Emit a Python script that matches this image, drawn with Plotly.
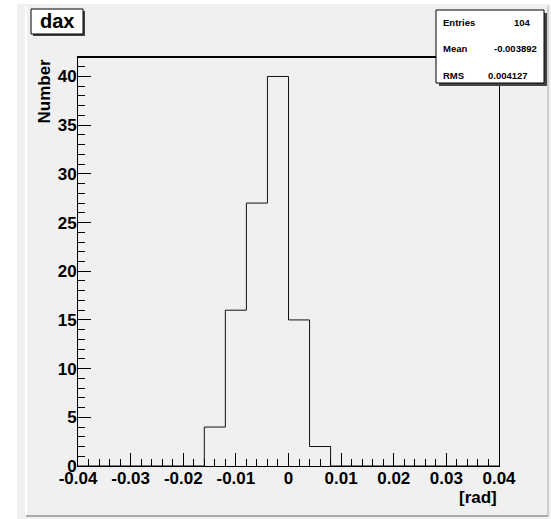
import plotly.graph_objects as go

# ---- data ----
bin_edges = [round(-0.04 + 0.004 * i, 3) for i in range(21)]
counts = [0, 0, 0, 0, 0, 0, 4, 16, 27, 40, 15, 2, 0, 0, 0, 0, 0, 0, 0, 0]
hist_title = "dax"
x_title = "[rad]"
y_title = "Number"
x_tickvals = [-0.04, -0.03, -0.02, -0.01, 0, 0.01, 0.02, 0.03, 0.04]
x_ticktext = ["-0.04", "-0.03", "-0.02", "-0.01", "0", "0.01", "0.02", "0.03", "0.04"]
y_tickvals = [0, 5, 10, 15, 20, 25, 30, 35, 40]
y_ticktext = ["0", "5", "10", "15", "20", "25", "30", "35", "40"]
stat_names = ["Entries", "Mean", "RMS"]
stat_values = ["104", "-0.003892", "0.004127"]

# ---- layout geometry (pixels) ----
W, H = 551, 519
L, R, T, B = 78, 499, 57, 466
PW, PH = R - L, B - T


def px(x):
    return (x - L) / PW


def py(y):
    return (B - y) / PH


FONT = "Liberation Sans, Arial, Helvetica, sans-serif"

fig = go.Figure()
fig.add_trace(go.Scatter(
    x=bin_edges,
    y=counts + [counts[-1]],
    mode="lines",
    line=dict(shape="hv", color="#111111", width=1),
    hoverinfo="skip",
    showlegend=False,
))

shapes = []
# canvas background
shapes.append(dict(type="rect", xref="paper", yref="paper", x0=px(17), x1=px(552), y0=py(4), y1=py(520),
                   fillcolor="#f0f0f0", line=dict(width=0), layer="below"))
shapes.append(dict(type="line", xref="paper", yref="paper", x0=px(26), x1=px(26), y0=py(6), y1=py(516),
                   line=dict(color="#ffffff", width=2), layer="below"))
shapes.append(dict(type="line", xref="paper", yref="paper", x0=px(26), x1=px(548), y0=py(516), y1=py(516),
                   line=dict(color="#a8a8a8", width=2), layer="below"))
shapes.append(dict(type="line", xref="paper", yref="paper", x0=px(548), x1=px(548), y0=py(6), y1=py(516),
                   line=dict(color="#a8a8a8", width=1), layer="below"))
# thick top frame line
shapes.append(dict(type="line", xref="x", yref="y", x0=-0.04, x1=0.04, y0=42, y1=42,
                   line=dict(color="black", width=2), layer="above"))
# title box
shapes.append(dict(type="rect", xref="paper", yref="paper", x0=px(33), x1=px(85), y0=py(11), y1=py(36),
                   fillcolor="#444444", line=dict(width=0), layer="above"))
shapes.append(dict(type="rect", xref="paper", yref="paper", x0=px(31), x1=px(83), y0=py(9), y1=py(34),
                   fillcolor="white", line=dict(color="black", width=1), layer="above"))
# stats box
shapes.append(dict(type="rect", xref="paper", yref="paper", x0=px(439), x1=px(547), y0=py(13), y1=py(86),
                   fillcolor="#444444", line=dict(width=0), layer="above"))
shapes.append(dict(type="rect", xref="paper", yref="paper", x0=px(436), x1=px(544), y0=py(10), y1=py(83),
                   fillcolor="white", line=dict(color="black", width=1), layer="above"))

annotations = []
annotations.append(dict(xref="paper", yref="paper", x=px(57), y=py(21.5), text=hist_title, showarrow=False,
                        xanchor="center", yanchor="middle",
                        font=dict(family=FONT, size=20, color="black", weight="bold")))
stat_y = [23, 49, 75]
stat_right = [533, 539, 530]
for name, val, yy, xr in zip(stat_names, stat_values, stat_y, stat_right):
    annotations.append(dict(xref="paper", yref="paper", x=px(441), y=py(yy), text=name, showarrow=False,
                            xanchor="left", yanchor="middle",
                            font=dict(family=FONT, size=9.5, color="black", weight="bold")))
    annotations.append(dict(xref="paper", yref="paper", x=px(xr), y=py(yy), text=val, showarrow=False,
                            xanchor="right", yanchor="middle",
                            font=dict(family=FONT, size=9.5, color="black", weight="bold")))
annotations.append(dict(xref="paper", yref="paper", x=1, y=py(497), text=x_title, showarrow=False,
                        xanchor="right", yanchor="middle",
                        font=dict(family=FONT, size=17, color="black", weight="bold")))
annotations.append(dict(xref="paper", yref="paper", x=px(44), y=1, text=y_title, showarrow=False,
                        textangle=-90, xanchor="center", yanchor="top",
                        font=dict(family=FONT, size=17, color="black", weight="bold")))

tickfont = dict(family=FONT, size=17, color="black", weight="bold")

fig.update_layout(
    width=W, height=H,
    margin=dict(l=L, r=W - R, t=T, b=H - B, autoexpand=False),
    paper_bgcolor="white",
    plot_bgcolor="rgba(0,0,0,0)",
    shapes=shapes,
    annotations=annotations,
    showlegend=False,
    xaxis=dict(
        range=[-0.04, 0.04], showgrid=False, zeroline=False,
        showline=True, linecolor="black", linewidth=1, mirror=True,
        ticks="inside", ticklen=13, tickcolor="black", tickwidth=1,
        tickmode="array", tickvals=x_tickvals, ticktext=x_ticktext,
        tickfont=tickfont, ticklabelstandoff=-3,
        minor=dict(ticks="inside", ticklen=7, tickcolor="black", tickwidth=1, tick0=-0.04, dtick=0.002),
    ),
    yaxis=dict(
        range=[0, 42], showgrid=False, zeroline=False,
        showline=True, linecolor="black", linewidth=1, mirror=True,
        ticks="inside", ticklen=13, tickcolor="black", tickwidth=1,
        tickmode="array", tickvals=y_tickvals, ticktext=y_ticktext,
        tickfont=tickfont, ticklabelstandoff=-3,
        minor=dict(ticks="inside", ticklen=7, tickcolor="black", tickwidth=1, tick0=0, dtick=1),
    ),
)

fig.write_html(
    "out.html",
    config={"displayModeBar": False, "staticPlot": True},
    post_script="document.body.style.margin='0';document.body.style.overflow='hidden';",
)
